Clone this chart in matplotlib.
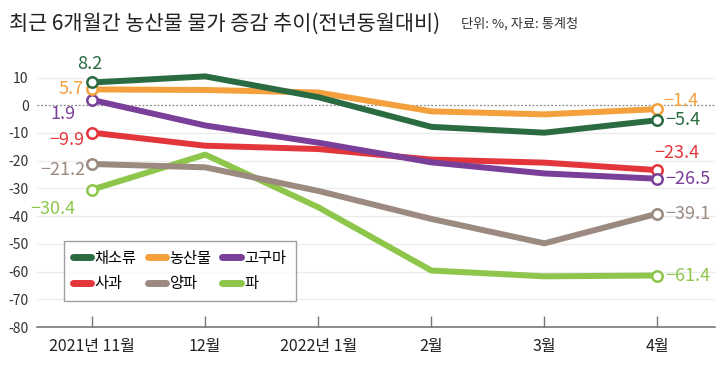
import matplotlib
matplotlib.use("Agg")
import matplotlib.pyplot as plt
from matplotlib.lines import Line2D

plt.rcParams['font.family'] = ['Noto Sans CJK KR', 'DejaVu Sans']
plt.rcParams['axes.unicode_minus'] = False

months = ["2021년 11월", "12월", "2022년 1월", "2월", "3월", "4월"]
series_names = ["채소류", "농산물", "고구마", "사과", "양파", "파"]
veg = [8.2, 10.4, 2.9, -7.8, -9.9, -5.4]
agri = [5.7, 5.5, 4.6, -2.2, -3.3, -1.4]
sweet_potato = [1.9, -7.3, -13.5, -20.6, -24.6, -26.5]
apple = [-9.9, -14.6, -15.8, -19.6, -20.7, -23.4]
onion = [-21.2, -22.4, -30.9, -41.0, -49.8, -39.1]
green_onion = [-30.4, -17.8, -36.8, -59.6, -61.7, -61.4]
yticks = [10, 0, -10, -20, -30, -40, -50, -60, -70, -80]

colors = {
    "채소류": "#2b6b42",
    "농산물": "#f3a03d",
    "고구마": "#7a3f98",
    "사과": "#e2363b",
    "양파": "#9a8a80",
    "파": "#8dc64b",
}
data = {
    "채소류": veg, "농산물": agri, "고구마": sweet_potato,
    "사과": apple, "양파": onion, "파": green_onion,
}
# label offsets (points) for first and last values
first_off = {
    "채소류": (-2, 7, 'center', 'bottom'),
    "농산물": (-6, 0, 'right', 'center'),
    "고구마": (-12, -10, 'right', 'center'),
    "사과": (-6, -5, 'right', 'center'),
    "양파": (-5, -4, 'right', 'center'),
    "파": (-12, -14, 'right', 'center'),
}
last_off = {
    "채소류": (6, 0, 'left', 'center'),
    "농산물": (4, 6, 'left', 'center'),
    "고구마": (6, 0, 'left', 'center'),
    "사과": (-2, 12, 'left', 'center'),
    "양파": (6, 0, 'left', 'center'),
    "파": (6, 0, 'left', 'center'),
}

fig = plt.figure(figsize=(7.23, 3.70), dpi=100)
ax = fig.add_axes([0.051, 0.116, 0.938, 0.727])
x = list(range(len(months)))

for yv in yticks:
    if yv == 0:
        ax.axhline(0, color="#8a8a8a", lw=0.9, ls=(0, (1.5, 1.5)), zorder=1)
    elif yv != -80:
        ax.axhline(yv, color="#ebebeb", lw=0.9, zorder=0)

fmt = lambda v: f"{v:.1f}".replace("-", "−")
order = ["파", "양파", "사과", "고구마", "농산물", "채소류"]
for name in order:
    vals = data[name]
    c = colors[name]
    ax.plot(x, vals, color=c, lw=4.3, solid_joinstyle='round', solid_capstyle='round', zorder=3)
    ax.plot([x[0], x[-1]], [vals[0], vals[-1]], ls='none', marker='o', ms=7.5,
            mfc='white', mec=c, mew=1.8, zorder=4)
    dx, dy, ha, va = first_off[name]
    ax.annotate(fmt(vals[0]), (x[0], vals[0]), xytext=(dx, dy), textcoords='offset points',
                ha=ha, va=va, color=c, fontsize=13, zorder=5)
    dx, dy, ha, va = last_off[name]
    ax.annotate(fmt(vals[-1]), (x[-1], vals[-1]), xytext=(dx, dy), textcoords='offset points',
                ha=ha, va=va, color=c, fontsize=13, zorder=5)

ax.set_xlim(-0.49, 5.51)
ax.set_ylim(-80, 17)
ax.set_yticks(yticks)
ax.set_yticklabels([str(v) for v in yticks], fontsize=10, color="#333333")
ax.set_xticks(x)
ax.set_xticklabels(months, fontsize=11.5, color="#222222")
ax.tick_params(axis='y', length=0, pad=6)
ax.tick_params(axis='x', direction='in', length=8, width=1, color="#777777", pad=8)
for s in ["top", "right", "left"]:
    ax.spines[s].set_visible(False)
ax.spines["bottom"].set_color("#777777")
ax.spines["bottom"].set_linewidth(1.2)

# legend filled row-wise: 3 columns x 2 rows
leg_order = [series_names[i] for i in (0, 3, 1, 4, 2, 5)]
handles = [Line2D([0], [0], color=colors[n], lw=5, solid_capstyle='round') for n in leg_order]
leg = ax.legend(handles, leg_order, ncol=3, loc='upper left',
                bbox_to_anchor=(0.028, 0.35), frameon=True, fancybox=False,
                edgecolor="#888888", fontsize=11, handlelength=1.2, handletextpad=0.25,
                columnspacing=0.7, borderpad=0.6, labelspacing=0.55)
leg.get_frame().set_linewidth(1.0)

fig.text(0.012, 0.935, "최근 6개월간 농산물 물가 증감 추이(전년동월대비)", fontsize=15,
         color="#222222", ha='left', va='center', fontweight='medium')
fig.text(0.638, 0.935, "단위: %, 자료: 통계청", fontsize=9.5, color="#333333",
         ha='left', va='center')

fig.savefig("out.png", dpi=100)
